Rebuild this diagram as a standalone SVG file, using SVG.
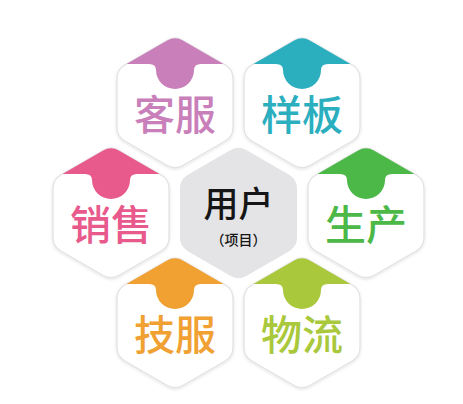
<svg xmlns="http://www.w3.org/2000/svg" width="463" height="404" viewBox="0 0 463 404">
<style>
.body{fill:#ffffff;stroke:#e2e2e4;stroke-width:1.3}
.core{fill:#e4e4e6;stroke:#e4e4e6;stroke-width:1}
.lbl{font-family:"Noto Sans CJK SC","Noto Sans",sans-serif;font-size:41px;font-weight:500;text-anchor:middle}
.ctr{font-family:"Noto Sans CJK SC","Noto Sans",sans-serif;font-weight:500;text-anchor:middle;fill:#151515}
.c1{fill:#c97fb9}.c2{fill:#2bafbf}.c3{fill:#e8598c}.c4{fill:#4bb847}.c5{fill:#f0a132}.c6{fill:#a9c83b}
</style>
<defs>
<filter id="sh" x="-20%" y="-20%" width="140%" height="140%">
<feDropShadow dx="0" dy="1" stdDeviation="1.5" flood-color="#000" flood-opacity="0.12"/>
</filter>
<path id="hex" d="M 7.79,-62.5 L 50.23,-38 Q 58.02,-33.5 58.02,-24.5 L 58.02,24.5 Q 58.02,33.5 50.23,38 L 7.79,62.5 Q 0,67 -7.79,62.5 L -50.23,38 Q -58.02,33.5 -58.02,24.5 L -58.02,-24.5 Q -58.02,-33.5 -50.23,-38 L -7.79,-62.5 Q 0,-67 7.79,-62.5 Z"/>
<path id="cap" d="M -48.5,-39 L -7.79,-62.5 Q 0,-67 7.79,-62.5 L 48.5,-39 L 26,-39 Q 19,-39 19,-33 A 19 19 0 0 1 -19,-33 Q -19,-39 -26,-39 Z"/>
</defs>
<g id="node-kefu" transform="translate(175,103)">
<use href="#hex" class="body" filter="url(#sh)"/>
<use href="#cap" class="c1"/>
<text class="lbl c1" x="0" y="27">客服</text>
</g>
<g id="node-yangban" transform="translate(302,103)">
<use href="#hex" class="body" filter="url(#sh)"/>
<use href="#cap" class="c2"/>
<text class="lbl c2" x="0" y="27">样板</text>
</g>
<g id="node-xiaoshou" transform="translate(111,213)">
<use href="#hex" class="body" filter="url(#sh)"/>
<use href="#cap" class="c3"/>
<text class="lbl c3" x="0" y="27">销售</text>
</g>
<g id="node-yonghu" transform="translate(238.5,213)">
<use href="#hex" class="core"/>
<text class="ctr" x="0" y="4" font-size="35">用户</text>
<text class="ctr" x="0" y="32" font-size="14">（项目）</text>
</g>
<g id="node-shengchan" transform="translate(366,213)">
<use href="#hex" class="body" filter="url(#sh)"/>
<use href="#cap" class="c4"/>
<text class="lbl c4" x="0" y="27">生产</text>
</g>
<g id="node-jifu" transform="translate(175,323)">
<use href="#hex" class="body" filter="url(#sh)"/>
<use href="#cap" class="c5"/>
<text class="lbl c5" x="0" y="27">技服</text>
</g>
<g id="node-wuliu" transform="translate(302,323)">
<use href="#hex" class="body" filter="url(#sh)"/>
<use href="#cap" class="c6"/>
<text class="lbl c6" x="0" y="27">物流</text>
</g>
</svg>
